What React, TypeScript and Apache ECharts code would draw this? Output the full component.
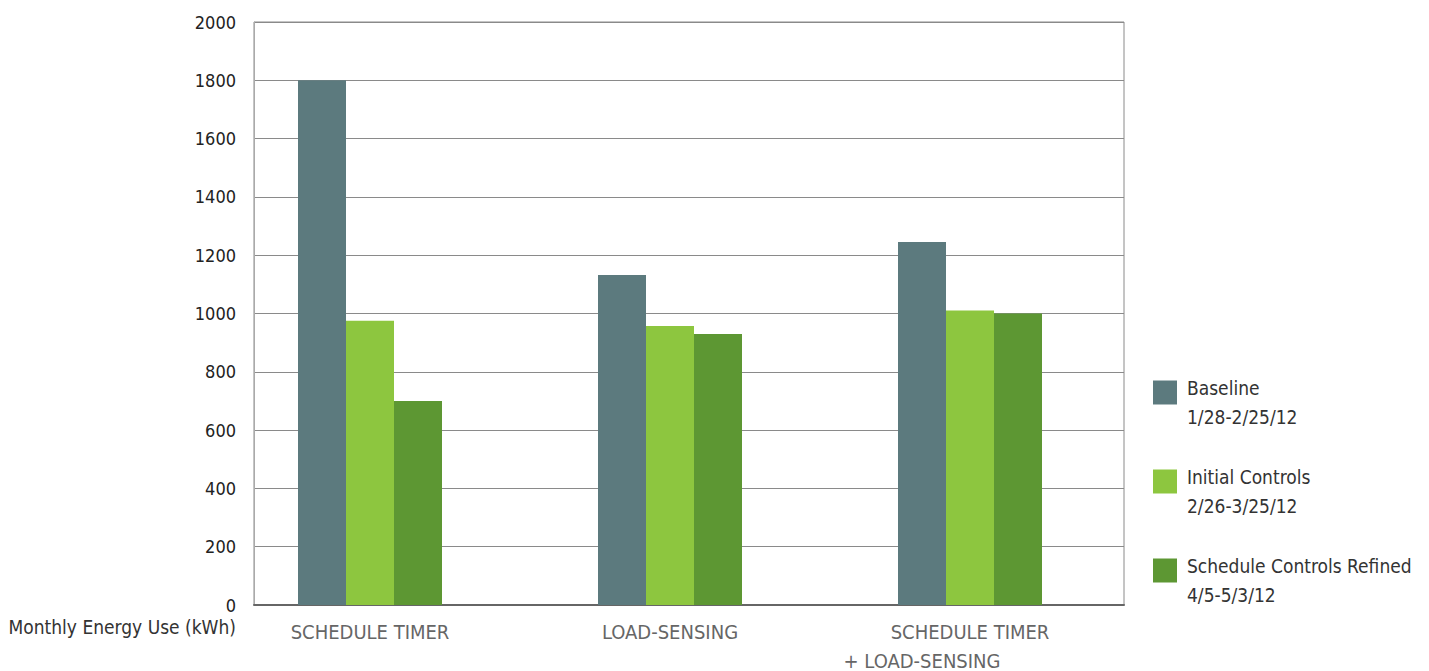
import React, { useEffect, useRef } from "react";
import * as echarts from "echarts";

const categories = ["SCHEDULE TIMER", "LOAD-SENSING", "SCHEDULE TIMER\n+ LOAD-SENSING"];
const seriesNames = ["Baseline", "Initial Controls", "Schedule Controls Refined"];
const seriesDates = ["1/28-2/25/12", "2/26-3/25/12", "4/5-5/3/12"];
const baseline = [1800, 1132, 1245];
const initialControls = [975, 957, 1010];
const controlsRefined = [700, 930, 1000];
const colors = ["#5C7A7E", "#8DC63F", "#5D9733"];
const yTicks = [0, 200, 400, 600, 800, 1000, 1200, 1400, 1600, 1800, 2000];
const yAxisTitle = "Monthly Energy Use (kWh)";

const FONT = "'DejaVu Sans Condensed', 'Liberation Sans Narrow', 'Roboto', sans-serif";

export default function App() {
  const ref = useRef<HTMLDivElement>(null);
  useEffect(() => {
    if (!ref.current) return;
    const chart = echarts.init(ref.current, undefined, { renderer: "svg" });
    const values = [baseline, initialControls, controlsRefined];
    chart.setOption({
      animation: false,
      textStyle: { fontFamily: FONT },
      grid: [
        { left: 254, width: 870, top: 22, bottom: 66, show: true, borderColor: "#8a8a8a", borderWidth: 1, containLabel: false, outerBoundsMode: "none" },
        { left: 220, width: 900, top: 22, bottom: 66, containLabel: false, outerBoundsMode: "none" },
      ],
      xAxis: [
        {
          type: "category",
          gridIndex: 0,
          data: categories,
          axisLine: { show: true, lineStyle: { color: "#666", width: 2 } },
          axisTick: { show: false },
          axisLabel: { show: false },
          splitLine: { show: false },
        },
        {
          type: "category",
          gridIndex: 1,
          data: categories,
          axisLine: { show: false },
          axisTick: { show: false },
          axisLabel: {
            show: true,
            margin: 12,
            color: "#666",
            fontFamily: FONT,
            fontSize: 20,
            lineHeight: 29,
            formatter: (v: string) => {
              const parts = v.split("\n");
              return parts.map((p, i) => (i === 0 ? `{a|${p}}` : `{b|${p}}`)).join("\n");
            },
            rich: {
              a: { color: "#666", fontFamily: FONT, fontSize: 20, lineHeight: 29 },
              b: { color: "#666", fontFamily: FONT, fontSize: 20, lineHeight: 29, padding: [0, 96, 0, 0] },
            },
          },
        },
      ],
      yAxis: [
        {
          type: "value",
          gridIndex: 0,
          min: yTicks[0],
          max: yTicks[yTicks.length - 1],
          interval: 200,
          axisLine: { show: true, lineStyle: { color: "#aaa", width: 1 } },
          axisTick: { show: false },
          axisLabel: { color: "#222", fontFamily: FONT, fontSize: 18, margin: 18, formatter: (v: number) => String(v) },
          splitLine: { show: true, lineStyle: { color: "#8a8a8a", width: 1 } },
        },
        {
          type: "value",
          gridIndex: 1,
          min: yTicks[0],
          max: yTicks[yTicks.length - 1],
          interval: 200,
          show: false,
        },
      ],
      legend: {
        orient: "vertical",
        left: 1148,
        top: 349,
        itemWidth: 24,
        itemHeight: 24,
        itemGap: 12,
        icon: "rect",
        align: "left",
        data: seriesNames,
        formatter: (name: string) => {
          const i = seriesNames.indexOf(name);
          return `{p| }\n{a|${name}}\n{a|${seriesDates[i]}}`;
        },
        textStyle: {
          color: "#333",
          fontFamily: FONT,
          fontSize: 19,
          lineHeight: 29,
          padding: [0, 0, 0, 5],
          rich: {
            p: { fontSize: 1, lineHeight: 19 },
            a: { color: "#333", fontFamily: FONT, fontSize: 19, lineHeight: 29 },
          },
        },
      },
      series: seriesNames.map((name, i) => ({
        name,
        type: "bar",
        xAxisIndex: 1,
        yAxisIndex: 1,
        data: values[i],
        barWidth: 48,
        barGap: "0%",
        itemStyle: { color: colors[i] },
        z: 3,
      })),
      graphic: [
        {
          type: "text",
          right: 1429 - 236,
          top: 617,
          style: { text: yAxisTitle, fill: "#333", fontFamily: FONT, fontSize: 19, textAlign: "right" },
        },
      ],
    });
    return () => chart.dispose();
  }, []);
  return <div ref={ref} style={{ width: 1429, height: 671, position: "absolute", left: 0, top: 0 }} />;
}
